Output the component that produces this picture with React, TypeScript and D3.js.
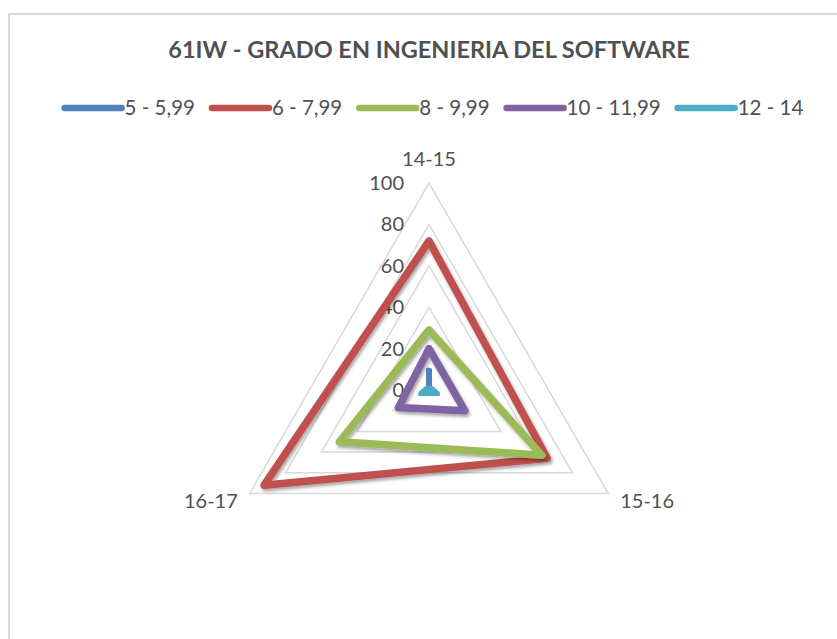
import * as React from 'react';
import {useEffect, useRef} from 'react';
import * as d3 from 'd3';

const width = 837;
const height = 639;

const title = '61IW - GRADO EN INGENIERIA DEL SOFTWARE';
const axes = ['14-15', '15-16', '16-17'];
const seriesNames = ['5 - 5,99', '6 - 7,99', '8 - 9,99', '10 - 11,99', '12 - 14'];
const seriesColors = ['#4F81BD', '#C0504D', '#9BBB59', '#8064A2', '#4BACC6'];
const values5 = [9, 1, 1];
const values6 = [72, 66, 92];
const values8 = [29, 63, 50];
const values10 = [20, 20, 17];
const values12 = [1, 4, 4];
const ticks = [0, 20, 40, 60, 80, 100];

const series = [values5, values6, values8, values10, values12];

const cx = 429;
const cy = 390;
const R = 207;
const font = 'Lato, "Open Sans", sans-serif';
const textColor = '#505050';

export default function App() {
  const ref = useRef<SVGSVGElement>(null);

  useEffect(() => {
    const svg = d3.select(ref.current);
    svg.selectAll('*').remove();

    const defs = svg.append('defs');
    const f = defs.append('filter').attr('id', 'shadow')
      .attr('x', '-20%').attr('y', '-20%').attr('width', '140%').attr('height', '140%');
    f.append('feDropShadow').attr('dx', 1.5).attr('dy', 2.5).attr('stdDeviation', 1.8)
      .attr('flood-color', '#000').attr('flood-opacity', 0.35);

    // chart border
    svg.append('rect')
      .attr('x', 9).attr('y', 14).attr('width', width + 20).attr('height', height + 20)
      .attr('fill', 'none').attr('stroke', '#d9d9d9').attr('stroke-width', 2);

    svg.append('text')
      .attr('x', 429).attr('y', 58)
      .attr('text-anchor', 'middle')
      .style('font', `bold 23.5px ${font}`)
      .attr('fill', textColor)
      .text(title);

    const r = d3.scaleLinear().domain([0, 100]).range([0, R]);
    const angle = d3.scalePoint<number>().domain(d3.range(axes.length + 1)).range([0, 2 * Math.PI]);

    const radial = d3.lineRadial<number>()
      .angle((_, i) => angle(i)!)
      .radius(d => r(d))
      .curve(d3.curveLinearClosed);

    const g = svg.append('g').attr('transform', `translate(${cx},${cy})`);

    // grid
    g.selectAll('path.grid').data(ticks.slice(1)).join('path')
      .attr('class', 'grid')
      .attr('d', t => radial(axes.map(() => t)))
      .attr('fill', 'none').attr('stroke', '#d9d9d9').attr('stroke-width', 1.5);

    // tick labels
    g.selectAll('text.tick').data(ticks).join('text')
      .attr('class', 'tick')
      .attr('x', -25).attr('y', t => -r(t))
      .attr('dy', '0.35em')
      .attr('text-anchor', 'end')
      .style('font', `20px ${font}`)
      .attr('fill', textColor)
      .text(t => t);

    // series
    g.selectAll('path.series').data(series).join('path')
      .attr('class', 'series')
      .attr('d', d => radial(d))
      .attr('fill', 'none')
      .attr('stroke', (_, i) => seriesColors[i])
      .attr('stroke-width', 7.5)
      .attr('stroke-linejoin', 'round')
      .attr('stroke-linecap', 'round')
      .attr('filter', 'url(#shadow)');

    // axis labels
    const lab = g.selectAll('text.axis').data(axes).join('text')
      .attr('class', 'axis')
      .style('font', `20px ${font}`)
      .attr('fill', textColor)
      .text(d => d);
    lab.each(function (d, i) {
      const a = angle(i)!;
      const x = Math.sin(a) * (R + 8);
      const y = -Math.cos(a) * (R + 8);
      const sel = d3.select(this);
      if (i === 0) {
        sel.attr('x', 0).attr('y', y - 16).attr('text-anchor', 'middle').attr('dy', '0.35em');
      } else {
        sel.attr('x', x + (x > 0 ? 5 : -5)).attr('y', y + 3).attr('dy', '0.35em')
          .attr('text-anchor', x > 0 ? 'start' : 'end');
      }
    });

    // legend
    const legend = svg.append('g');
    const sw = 57;
    const gap = 17;
    const items = legend.selectAll('g').data(seriesNames).join('g');
    items.append('line')
      .attr('x1', 0).attr('x2', sw).attr('y1', 0).attr('y2', 0)
      .attr('stroke', (_, i) => seriesColors[i])
      .attr('stroke-width', 6.5).attr('stroke-linecap', 'round');
    const txt = items.append('text')
      .attr('x', sw + 3).attr('dy', '0.35em')
      .style('font', `20.5px ${font}`)
      .attr('fill', textColor)
      .text(d => d);
    let xpos = 0;
    const offs: number[] = [];
    txt.each(function () {
      offs.push(xpos);
      xpos += sw + 3 + (this as SVGTextElement).getComputedTextLength() + gap;
    });
    const total = xpos - gap;
    const start = 434 - total / 2;
    items.attr('transform', (_, i) => `translate(${start + offs[i]},108)`);
  }, []);

  return (
    <svg ref={ref} width={width} height={height}
      style={{position: 'absolute', left: 0, top: 0, background: '#fff'}} />
  );
}
